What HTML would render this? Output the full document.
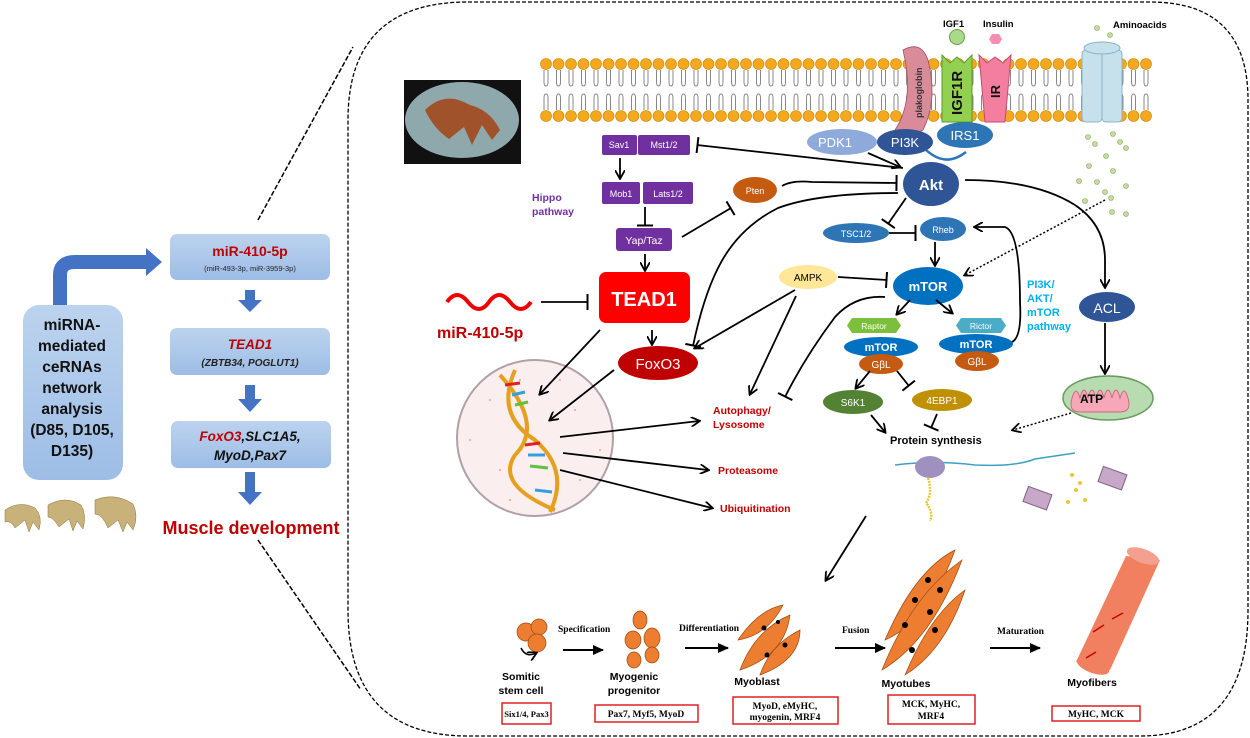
<!DOCTYPE html>
<html><head><meta charset="utf-8"><style>
body{margin:0;background:#fff}
svg{display:block;font-family:"Liberation Sans",Arial,sans-serif}
</style></head><body>
<svg width="1250" height="738" viewBox="0 0 1250 738" xmlns="http://www.w3.org/2000/svg">
<defs>
<marker id="a" markerWidth="10" markerHeight="10" refX="8" refY="5" orient="auto" markerUnits="userSpaceOnUse"><path d="M0,0 L9,5 L0,10" fill="none" stroke="#000" stroke-width="1.8"/></marker>
<marker id="af" markerWidth="12" markerHeight="10" refX="10" refY="5" orient="auto" markerUnits="userSpaceOnUse"><path d="M0,0 L11,5 L0,10 Z" fill="#000"/></marker>
<marker id="t" markerWidth="4" markerHeight="16" refX="2" refY="8" orient="auto" markerUnits="userSpaceOnUse"><rect x="0.5" y="0" width="2" height="16" fill="#000"/></marker>
<pattern id="mem" x="540" y="0" width="12.5" height="140" patternUnits="userSpaceOnUse">
<circle cx="6" cy="64" r="5.5" fill="#f3a81d" stroke="#c98300" stroke-width="0.6"/>
<circle cx="6" cy="116" r="5.5" fill="#f3a81d" stroke="#c98300" stroke-width="0.6"/>
<path d="M4,70 v12 q0,4 2,4 q2,0 2,-4 v-12 M4,110 v-12 q0,-4 2,-4 q2,0 2,4 v12" fill="none" stroke="#888" stroke-width="1"/>
</pattern>
<linearGradient id="bx" x1="0" y1="0" x2="0" y2="1"><stop offset="0" stop-color="#bcd3ee"/><stop offset="1" stop-color="#9dbde6"/></linearGradient>
</defs>

<!-- dashed frames -->
<path d="M468,2 H1150 Q1248,2 1248,100 V610 Q1248,736 1140,736 H468 Q348,736 348,610 V120 Q348,2 468,2 Z" fill="none" stroke="#000" stroke-width="1.3" stroke-dasharray="4,2"/>
<line x1="258" y1="220" x2="353" y2="47" stroke="#000" stroke-width="1.5" stroke-dasharray="5,2"/>
<line x1="258" y1="540" x2="361" y2="690" stroke="#000" stroke-width="1.5" stroke-dasharray="5,2"/>

<!-- left panel -->
<path d="M60,305 V275 Q60,262 75,262 H148" fill="none" stroke="#4472c4" stroke-width="14"/>
<path d="M146,248 L162,262 L146,276 Z" fill="#4472c4"/>
<rect x="23" y="305" width="100" height="175" rx="16" fill="url(#bx)"/>
<g font-weight="bold" font-size="15.5" text-anchor="middle" fill="#111">
<text x="72" y="330">miRNA-</text><text x="72" y="351">mediated</text><text x="72" y="372">ceRNAs</text><text x="72" y="393">network</text><text x="72" y="414">analysis</text><text x="72" y="435">(D85, D105,</text><text x="72" y="456">D135)</text>
</g>
<rect x="170" y="234" width="160" height="46" rx="7" fill="url(#bx)"/>
<text x="250" y="256" font-size="14" font-weight="bold" fill="#c00000" text-anchor="middle">miR-410-5p</text>
<text x="250" y="271" font-size="7.5" fill="#222" text-anchor="middle">(miR-493-3p, miR-3959-3p)</text>
<rect x="170" y="328" width="160" height="47" rx="7" fill="url(#bx)"/>
<text x="250" y="349" font-size="13.5" font-weight="bold" font-style="italic" fill="#c00000" text-anchor="middle">TEAD1</text>
<text x="250" y="366" font-size="10" font-weight="bold" font-style="italic" fill="#222" text-anchor="middle">(ZBTB34, POGLUT1)</text>
<rect x="171" y="421" width="160" height="47" rx="7" fill="url(#bx)"/>
<text x="250" y="441" font-size="13.5" font-weight="bold" font-style="italic" text-anchor="middle"><tspan fill="#c00000">FoxO3</tspan><tspan fill="#111">,SLC1A5,</tspan></text>
<text x="250" y="460" font-size="13.5" font-weight="bold" font-style="italic" fill="#111" text-anchor="middle">MyoD,Pax7</text>
<g fill="#4472c4">
<path d="M245,290 h10 v10 h7 l-12,12 l-12,-12 h7z"/>
<path d="M245,385 h10 v14 h7 l-12,13 l-12,-13 h7z"/>
<path d="M245,472 h10 v20 h7 l-12,13 l-12,-13 h7z"/>
</g>
<text x="251" y="534" font-size="18" font-weight="bold" fill="#c00000" text-anchor="middle">Muscle development</text>
<g fill="#c9b27a" stroke="#8a7440" stroke-width="0.5">
<path d="M5,510 q15,-10 30,-2 q8,8 4,22 l-6,-8 l-4,10 l-4,-12 l-10,8 q-4,-8 -10,-6z"/>
<path d="M48,505 q18,-10 33,0 q6,10 2,24 l-6,-8 l-4,10 l-4,-12 l-10,8 q-6,-10 -11,-10z"/>
<path d="M95,500 q20,-8 38,4 q6,12 0,26 l-6,-8 l-4,10 l-5,-12 l-10,8 q-6,-14 -13,-14z"/>
</g>

<!-- photo -->
<rect x="404" y="80" width="117" height="84" fill="#111"/>
<ellipse cx="462" cy="120" rx="57" ry="38" fill="#8fa8ac"/>
<path d="M425,110 q20,-20 45,-5 q20,5 30,25 l-8,10 l-10,-15 l-10,20 l-8,-18 l-15,12 q-15,-10 -24,-29z" fill="#a0532a"/>

<!-- membrane -->
<rect x="540" y="55" width="612" height="70" fill="url(#mem)"/>
<path d="M903,50 q18,-10 25,10 q10,40 -5,70 q-12,8 -28,0 q20,-30 8,-80z" fill="#d98b9a" stroke="#a05060" stroke-width="0.8"/>
<text transform="translate(922,118) rotate(-90)" font-size="9" font-weight="bold" fill="#333">plakoglobin</text>
<path d="M942,55 l8,8 l7,-6 l7,6 l8,-8 v67 h-30z" fill="#92d050" stroke="#5b9b2c"/>
<text transform="translate(962,115) rotate(-90)" font-size="15" font-weight="bold" fill="#111">IGF1R</text>
<path d="M979,55 l8,8 l8,-6 l8,6 l8,-8 l-6,67 h-20z" fill="#f37ea0" stroke="#c04e74"/>
<text transform="translate(1000,98) rotate(-90)" font-size="13" font-weight="bold" fill="#111">IR</text>
<g fill="#c7e1ec" stroke="#8ab4c8">
<rect x="1082" y="50" width="20" height="72" rx="4"/><rect x="1102" y="50" width="20" height="72" rx="4"/>
<ellipse cx="1102" cy="48" rx="18" ry="6"/>
</g>
<text x="943" y="27" font-size="9.5" font-weight="bold">IGF1</text>
<circle cx="957" cy="37" r="7.5" fill="#a9d98a" stroke="#6aa04a"/>
<text x="983" y="27" font-size="9.5" font-weight="bold">Insulin</text>
<path d="M989,39 l3,-5 h7 l3,5 l-3,5 h-7z" fill="#f48fb1"/>
<text x="1113" y="28" font-size="9.5" font-weight="bold">Aminoacids</text>
<g fill="#c5dca0" stroke="#8aa860" stroke-width="0.6">
<circle cx="1097" cy="28" r="2.5"/><circle cx="1110" cy="35" r="2.5"/>
<circle cx="1088" cy="137" r="2.5"/><circle cx="1095" cy="144" r="2.5"/><circle cx="1113" cy="134" r="2.5"/><circle cx="1120" cy="142" r="2.5"/><circle cx="1126" cy="148" r="2.5"/><circle cx="1106" cy="156" r="2.5"/><circle cx="1089" cy="166" r="2.5"/><circle cx="1113" cy="171" r="2.5"/><circle cx="1079" cy="181" r="2.5"/><circle cx="1097" cy="182" r="2.5"/><circle cx="1126" cy="186" r="2.5"/><circle cx="1105" cy="192" r="2.5"/><circle cx="1111" cy="198" r="2.5"/><circle cx="1085" cy="201" r="2.5"/><circle cx="1112" cy="212" r="2.5"/><circle cx="1126" cy="214" r="2.5"/>
</g>

<!-- hippo -->
<g font-size="9" fill="#fff" text-anchor="middle">
<rect x="602" y="135" width="35" height="20" rx="2" fill="#7030a0"/><text x="619" y="148">Sav1</text>
<rect x="638" y="135" width="52" height="20" rx="2" fill="#7030a0"/><text x="664" y="148">Mst1/2</text>
<rect x="602" y="182" width="38" height="22" rx="2" fill="#7030a0"/><text x="621" y="197">Mob1</text>
<rect x="643" y="182" width="50" height="22" rx="2" fill="#7030a0"/><text x="668" y="197">Lats1/2</text>
<rect x="616" y="228" width="56" height="23" rx="3" fill="#7030a0"/><text x="644" y="244" font-size="10.5">Yap/Taz</text>
</g>
<text x="532" y="201" font-size="10.5" font-weight="bold" fill="#7030a0">Hippo</text>
<text x="532" y="215" font-size="10.5" font-weight="bold" fill="#7030a0">pathway</text>
<rect x="599" y="272" width="91" height="51" rx="7" fill="#f00"/>
<text x="644" y="306" font-size="20" font-weight="bold" fill="#fff" text-anchor="middle">TEAD1</text>
<path d="M447,302 q10,-14 21,0 t21,0 t21,0 t21,0" fill="none" stroke="#e00" stroke-width="4"/>
<text x="437" y="338" font-size="16" font-weight="bold" fill="#c00000">miR-410-5p</text>
<ellipse cx="658" cy="363" rx="40" ry="17" fill="#c00000"/>
<text x="658" y="369" font-size="15" fill="#fff" text-anchor="middle">FoxO3</text>
<ellipse cx="755" cy="190" rx="22" ry="13" fill="#c55a11"/>
<text x="755" y="194" font-size="9" fill="#fff" text-anchor="middle">Pten</text>
<ellipse cx="808" cy="277" rx="29" ry="12" fill="#ffe699"/>
<text x="808" y="281" font-size="10" text-anchor="middle">AMPK</text>

<!-- nucleus -->
<circle cx="535" cy="438" r="78" fill="#fbeeee" stroke="#b0a0a8" stroke-width="2"/>
<g fill="#e07060" opacity="0.6">
<circle cx="490" cy="400" r="1"/><circle cx="520" cy="380" r="1"/><circle cx="575" cy="410" r="1"/><circle cx="500" cy="470" r="1"/><circle cx="580" cy="480" r="1"/><circle cx="470" cy="440" r="1"/><circle cx="560" cy="380" r="1"/><circle cx="600" cy="450" r="1"/><circle cx="510" cy="500" r="1"/>
</g>
<path d="M500,375 q45,50 15,80 q-20,30 40,55" fill="none" stroke="#e5a020" stroke-width="4"/>
<path d="M515,370 q-20,45 20,70 q35,30 15,72" fill="none" stroke="#e5a020" stroke-width="4"/>
<g stroke-width="3"><line x1="505" y1="385" x2="520" y2="383" stroke="#e02020"/><line x1="512" y1="395" x2="525" y2="392" stroke="#30a0e0"/><line x1="515" y1="405" x2="528" y2="402" stroke="#60c040"/><line x1="525" y1="445" x2="540" y2="443" stroke="#e02020"/><line x1="528" y1="455" x2="545" y2="455" stroke="#30a0e0"/><line x1="530" y1="466" x2="548" y2="468" stroke="#60c040"/><line x1="535" y1="490" x2="552" y2="492" stroke="#30a0e0"/></g>
<g font-size="10.5" font-weight="bold" fill="#c00000">
<text x="713" y="414">Autophagy/</text><text x="713" y="428">Lysosome</text>
<text x="718" y="474">Proteasome</text><text x="720" y="512">Ubiquitination</text>
</g>

<!-- PI3K/Akt -->
<ellipse cx="842" cy="142" rx="35" ry="13" fill="#8eaadb"/><text x="835" y="147" font-size="13" fill="#fff" text-anchor="middle">PDK1</text>
<ellipse cx="905" cy="142" rx="28" ry="13" fill="#2f5597"/><text x="905" y="147" font-size="13" fill="#fff" text-anchor="middle">PI3K</text>
<ellipse cx="965" cy="135" rx="28" ry="13" fill="#2e75b6"/><text x="965" y="140" font-size="13" fill="#fff" text-anchor="middle">IRS1</text>
<path d="M926,150 q20,18 40,2" fill="none" stroke="#2e75b6" stroke-width="2.5"/>
<ellipse cx="931" cy="184" rx="28" ry="22" fill="#2f5597"/><text x="931" y="190" font-size="15" font-weight="bold" fill="#fff" text-anchor="middle">Akt</text>
<ellipse cx="856" cy="233" rx="33" ry="10" fill="#2e75b6"/><text x="856" y="237" font-size="9" fill="#fff" text-anchor="middle">TSC1/2</text>
<ellipse cx="943" cy="229" rx="23" ry="12" fill="#2e75b6"/><text x="943" y="233" font-size="9" fill="#fff" text-anchor="middle">Rheb</text>
<ellipse cx="928" cy="286" rx="35" ry="19" fill="#0070c0"/><text x="928" y="291" font-size="13" font-weight="bold" fill="#fff" text-anchor="middle">mTOR</text>
<path d="M852,318 h44 l5,7.5 l-5,7.5 h-44 l-5,-7.5z" fill="#7cbf3c"/><text x="874" y="329" font-size="8.5" fill="#fff" text-anchor="middle">Raptor</text>
<ellipse cx="881" cy="347" rx="37" ry="10" fill="#0070c0"/><text x="881" y="351" font-size="11" font-weight="bold" fill="#fff" text-anchor="middle">mTOR</text>
<ellipse cx="881" cy="364" rx="22" ry="10" fill="#c55a11"/><text x="881" y="368" font-size="10" fill="#fff" text-anchor="middle">GβL</text>
<path d="M961,318 h40 l5,7.5 l-5,7.5 h-40 l-5,-7.5z" fill="#4bacc6"/><text x="981" y="329" font-size="8.5" fill="#fff" text-anchor="middle">Rictor</text>
<ellipse cx="976" cy="344" rx="37" ry="10" fill="#0070c0"/><text x="976" y="348" font-size="11" font-weight="bold" fill="#fff" text-anchor="middle">mTOR</text>
<ellipse cx="977" cy="361" rx="22" ry="10" fill="#c55a11"/><text x="977" y="365" font-size="10" fill="#fff" text-anchor="middle">GβL</text>
<ellipse cx="853" cy="402" rx="30" ry="12" fill="#548235"/><text x="853" y="406" font-size="10" fill="#fff" text-anchor="middle">S6K1</text>
<ellipse cx="942" cy="400" rx="30" ry="11" fill="#bf9000"/><text x="942" y="404" font-size="10" fill="#fff" text-anchor="middle">4EBP1</text>
<text x="890" y="444" font-size="11" font-weight="bold">Protein synthesis</text>
<g font-size="11" font-weight="bold" fill="#00b0f0"><text x="1027" y="288">PI3K/</text><text x="1027" y="302">AKT/</text><text x="1027" y="316">mTOR</text><text x="1027" y="330">pathway</text></g>
<ellipse cx="1107" cy="307" rx="28" ry="15" fill="#2f5597"/><text x="1107" y="313" font-size="14" fill="#fff" text-anchor="middle">ACL</text>
<ellipse cx="1108" cy="398" rx="45" ry="22" fill="#b7dcb0" stroke="#6a9a60" stroke-width="1.5"/>
<path d="M1072,398 q4,-14 8,0 q4,-16 8,0 q4,-16 8,0 q4,-16 8,0 q4,-16 8,0 q4,-16 8,0 q4,-14 8,0 q4,14 -8,14 h-40 q-12,0 -8,-14" fill="#f7a8b8" stroke="#d06880"/>
<text x="1080" y="403" font-size="12" font-weight="bold">ATP</text>

<!-- protein synthesis art -->
<path d="M895,465 q40,-5 80,0 q40,2 60,-6 q20,-3 40,-6" fill="none" stroke="#40a0c0" stroke-width="1.5"/>
<ellipse cx="930" cy="467" rx="15" ry="11" fill="#a090c0"/>
<path d="M928,478 q5,15 -2,25 q8,10 4,18" fill="none" stroke="#e8c830" stroke-width="2.5" stroke-dasharray="2,1"/>
<rect x="1025" y="490" width="25" height="16" transform="rotate(20 1037 498)" fill="#c8a8c8" stroke="#806080"/>
<rect x="1100" y="470" width="25" height="16" transform="rotate(20 1112 478)" fill="#c8a8c8" stroke="#806080"/>
<g fill="#e8c830"><circle cx="1072" cy="475" r="2"/><circle cx="1080" cy="483" r="2"/><circle cx="1076" cy="490" r="2"/><circle cx="1068" cy="502" r="2"/><circle cx="1085" cy="500" r="2"/></g>

<!-- connectors -->
<g fill="none" stroke="#000" stroke-width="1.8">
<line x1="620" y1="158" x2="620" y2="178" marker-end="url(#a)"/>
<line x1="645" y1="207" x2="645" y2="226" marker-end="url(#t)"/>
<line x1="645" y1="254" x2="645" y2="270" marker-end="url(#a)"/>
<line x1="652" y1="330" x2="652" y2="344" marker-end="url(#a)"/>
<line x1="541" y1="302" x2="588" y2="302" marker-end="url(#t)"/>
<line x1="903" y1="168" x2="697" y2="145" marker-end="url(#t)"/>
<path d="M782,186 q10,-6 30,-4 l85,1" marker-end="url(#t)"/>
<path d="M898,193 q-80,0 -120,15 q-40,20 -60,60 q-15,30 -25,78" marker-end="url(#t)"/>
<line x1="682" y1="237" x2="731" y2="208" marker-end="url(#t)"/>
<line x1="868" y1="153" x2="900" y2="167" marker-end="url(#a)"/>
<line x1="906" y1="198" x2="888" y2="224" marker-end="url(#t)"/>
<line x1="889" y1="233" x2="916" y2="233" marker-end="url(#t)"/>
<line x1="935" y1="242" x2="935" y2="265" marker-end="url(#a)"/>
<line x1="838" y1="277" x2="887" y2="280" marker-end="url(#t)"/>
<line x1="795" y1="290" x2="695" y2="348" marker-end="url(#a)"/>
<line x1="796" y1="296" x2="750" y2="394" marker-end="url(#a)"/>
<path d="M885,297 q-30,-2 -50,20 q-30,40 -50,80" marker-end="url(#t)"/>
<line x1="910" y1="300" x2="897" y2="314" marker-end="url(#a)"/>
<line x1="936" y1="300" x2="952" y2="313" marker-end="url(#a)"/>
<path d="M1012,342 q10,-5 8,-40 q0,-70 -15,-75 h-30" marker-end="url(#a)"/>
<path d="M965,180 q70,0 110,25 q30,20 30,55 v27" marker-end="url(#a)"/>
<line x1="1105" y1="323" x2="1105" y2="373" marker-end="url(#a)"/>
<line x1="870" y1="371" x2="856" y2="388" marker-end="url(#a)"/>
<line x1="897" y1="371" x2="909" y2="386" marker-end="url(#t)"/>
<line x1="871" y1="415" x2="885" y2="432" marker-end="url(#a)"/>
<line x1="937" y1="414" x2="931" y2="428" marker-end="url(#t)"/>
<line x1="600" y1="330" x2="540" y2="394" marker-end="url(#a)"/>
<line x1="614" y1="370" x2="550" y2="420" marker-end="url(#a)"/>
<line x1="560" y1="437" x2="699" y2="421" marker-end="url(#a)"/>
<line x1="563" y1="453" x2="708" y2="470" marker-end="url(#a)"/>
<line x1="560" y1="470" x2="712" y2="508" marker-end="url(#a)"/>
<line x1="866" y1="516" x2="826" y2="580" marker-end="url(#a)"/>
</g>
<g fill="none" stroke="#000" stroke-width="1.5" stroke-dasharray="2,2">
<line x1="1105" y1="200" x2="965" y2="275" marker-end="url(#a)"/>
<line x1="1071" y1="413" x2="1013" y2="430" marker-end="url(#a)"/>
</g>

<!-- differentiation row -->
<g fill="#ed7d31" stroke="#9a4a10" stroke-width="0.7">
<circle cx="526" cy="632" r="9"/><circle cx="539" cy="627" r="8"/><circle cx="537" cy="643" r="9"/>
<ellipse cx="640" cy="620" rx="7" ry="9"/><ellipse cx="633" cy="640" rx="8" ry="9"/><ellipse cx="652" cy="638" rx="8" ry="10"/><ellipse cx="634" cy="660" rx="7" ry="8"/><ellipse cx="652" cy="655" rx="7" ry="8"/>
<path d="M738,640 q20,-30 45,-35 q-15,30 -45,35z"/><path d="M740,670 q15,-40 50,-55 q-5,40 -50,55z"/><path d="M760,675 q10,-30 40,-45 q0,30 -40,45z"/>
<path d="M885,640 q30,-70 70,-90 q-25,70 -70,90z"/><path d="M882,670 q30,-75 80,-110 q-30,80 -80,110z"/><path d="M905,675 q25,-60 60,-85 q-20,60 -60,85z"/>
</g>
<path d="M1126,556 L1160,560 L1110,670 L1076,662 Z" fill="#f08060"/>
<ellipse cx="1143" cy="556" rx="17" ry="7" transform="rotate(20 1143 556)" fill="#f4a090"/>
<ellipse cx="1093" cy="666" rx="17" ry="7" transform="rotate(20 1093 666)" fill="#f08060"/>
<g stroke="#c00" stroke-width="1.5"><line x1="1093" y1="632" x2="1104" y2="625"/><line x1="1112" y1="619" x2="1123" y2="613"/><line x1="1086" y1="658" x2="1096" y2="652"/></g>
<g fill="#000"><circle cx="764" cy="628" r="2.5"/><circle cx="778" cy="622" r="2"/><circle cx="767" cy="655" r="2.5"/><circle cx="785" cy="645" r="2.5"/><circle cx="905" cy="625" r="3"/><circle cx="915" cy="600" r="3"/><circle cx="928" cy="580" r="3"/><circle cx="930" cy="612" r="3"/><circle cx="940" cy="590" r="3"/><circle cx="912" cy="650" r="3"/><circle cx="935" cy="630" r="3"/></g>
<path d="M521,648 q5,10 15,5" fill="none" stroke="#000" stroke-width="1.5" marker-end="url(#a)"/>
<g stroke="#000" stroke-width="2">
<line x1="563" y1="650" x2="603" y2="650" marker-end="url(#af)"/>
<line x1="685" y1="648" x2="728" y2="648" marker-end="url(#af)"/>
<line x1="835" y1="648" x2="885" y2="648" marker-end="url(#af)"/>
<line x1="990" y1="648" x2="1040" y2="648" marker-end="url(#af)"/>
</g>
<g font-family="Liberation Serif,serif" font-size="9.5" font-weight="bold">
<text x="558" y="632">Specification</text><text x="679" y="631">Differentiation</text><text x="842" y="633">Fusion</text><text x="997" y="634">Maturation</text>
</g>
<g font-size="10.5" font-weight="bold" text-anchor="middle">
<text x="521" y="680">Somitic</text><text x="521" y="694">stem cell</text>
<text x="634" y="680">Myogenic</text><text x="634" y="694">progenitor</text>
<text x="757" y="685">Myoblast</text><text x="906" y="687">Myotubes</text><text x="1092" y="686">Myofibers</text>
</g>
<g fill="#fff" stroke="#e02020" stroke-width="1.5">
<rect x="502" y="703" width="49" height="21"/><rect x="595" y="705" width="103" height="17"/><rect x="733" y="697" width="105" height="27"/><rect x="888" y="695" width="87" height="29"/><rect x="1052" y="706" width="88" height="15"/>
</g>
<g font-family="Liberation Serif,serif" font-size="9.5" font-weight="bold" text-anchor="middle">
<text x="526.5" y="717" font-size="8.5">Six1/4, Pax3</text><text x="646" y="717">Pax7, Myf5, MyoD</text>
<text x="785" y="709">MyoD, eMyHC,</text><text x="785" y="720">myogenin, MRF4</text>
<text x="931" y="707">MCK, MyHC,</text><text x="931" y="719">MRF4</text>
<text x="1096" y="717">MyHC, MCK</text>
</g>
</svg>
</body></html>
